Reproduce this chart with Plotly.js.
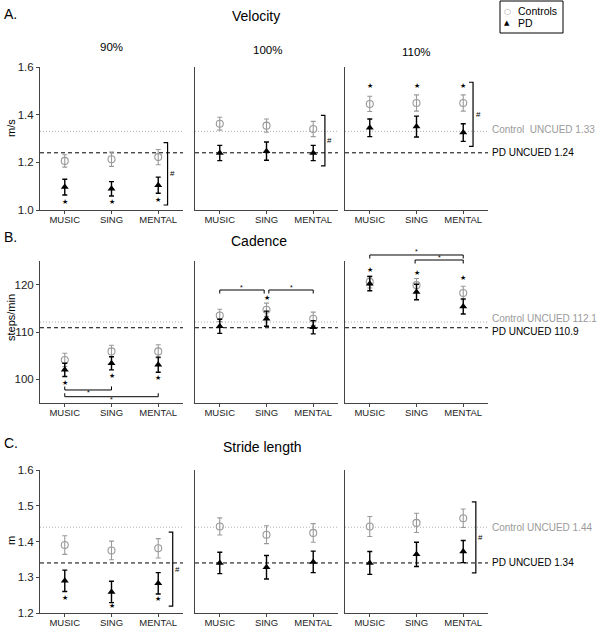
<!DOCTYPE html>
<html><head><meta charset="utf-8">
<script src="https://cdn.plot.ly/plotly-3.0.1.min.js"></script>
<style>html,body{margin:0;padding:0;background:#fff}#chart{width:600px;height:627px}</style>
</head><body><div id="chart"></div>
<script>
// ---------------- data ----------------
const conditions = ['MUSIC', 'SING', 'MENTAL'];
const cueRates = ['90%', '100%', '110%'];
const rowTitles = ['Velocity', 'Cadence', 'Stride length'];
const rowLetters = ['A.', 'B.', 'C.'];
const yTitles = ['m/s', 'steps/min', 'm'];
const yRanges = [[1.0, 1.6], [95, 125], [1.2, 1.6]];
const yTicks = [[1.0, 1.2, 1.4, 1.6], [100, 110, 120], [1.2, 1.3, 1.4, 1.5, 1.6]];
const yTickFormat = ['.1f', 'd', '.1f'];

// Velocity (m/s)
const velCtrl90 = [1.206, 1.213, 1.222],  velCtrlErr90 = [0.026, 0.030, 0.032];
const velPD90 = [1.096, 1.089, 1.104],    velPDErr90 = [0.033, 0.030, 0.034];
const velCtrl100 = [1.362, 1.354, 1.340], velCtrlErr100 = [0.027, 0.028, 0.032];
const velPD100 = [1.239, 1.247, 1.239],   velPDErr100 = [0.032, 0.038, 0.032];
const velCtrl110 = [1.445, 1.449, 1.449], velCtrlErr110 = [0.032, 0.034, 0.034];
const velPD110 = [1.345, 1.350, 1.325],   velPDErr110 = [0.037, 0.044, 0.037];

// Cadence (steps/min)
const cadCtrl90 = [104.1, 105.9, 105.9],  cadCtrlErr90 = [1.4, 1.3, 1.4];
const cadPD90 = [102.0, 103.4, 103.1],    cadPDErr90 = [1.4, 1.4, 1.6];
const cadCtrl100 = [113.5, 114.7, 112.8], cadCtrlErr100 = [1.3, 1.4, 1.4];
const cadPD100 = [111.2, 112.8, 111.0],   cadPDErr100 = [1.5, 1.6, 1.4];
const cadCtrl110 = [120.6, 119.9, 118.25], cadCtrlErr110 = [1.3, 1.4, 1.4];
const cadPD110 = [120.2, 118.45, 115.4],  cadPDErr110 = [1.5, 1.65, 1.6];

// Stride length (m)
const strCtrl90 = [1.390, 1.375, 1.381],  strCtrlErr90 = [0.026, 0.026, 0.027];
const strPD90 = [1.290, 1.259, 1.283],    strPDErr90 = [0.030, 0.030, 0.030];
const strCtrl100 = [1.442, 1.419, 1.424], strCtrlErr100 = [0.024, 0.025, 0.026];
const strPD100 = [1.340, 1.328, 1.343],   strPDErr100 = [0.030, 0.033, 0.030];
const strCtrl110 = [1.442, 1.452, 1.465], strCtrlErr110 = [0.028, 0.027, 0.026];
const strPD110 = [1.340, 1.364, 1.372],   strPDErr110 = [0.032, 0.034, 0.031];

// Uncued reference values
const ctrlUncued = [1.33, 112.1, 1.44];
const pdUncued = [1.24, 110.9, 1.34];
const ctrlUncuedLabel = ['Control&nbsp; UNCUED ', 'Control UNCUED ', 'Control UNCUED '];

// Significance stars (row, col, condition index, y)
const starRow = [0, 0, 0, 0, 0, 0, 1, 1, 1, 1, 1, 1, 1, 2, 2, 2];
const starCol = [0, 0, 0, 2, 2, 2, 0, 0, 0, 1, 2, 2, 2, 0, 0, 0];
const starCond = [0, 1, 2, 0, 1, 2, 0, 1, 2, 1, 0, 1, 2, 0, 1, 2];
const starY = [1.035, 1.032, 1.042, 1.522, 1.522, 1.522, 99.16, 100.77, 100.35, 117.25, 123.1, 122.5, 121.35, 1.241, 1.219, 1.239];

// Group-difference "#" brackets
const hashRow = [0, 0, 0, 2, 2];
const hashCol = [0, 1, 2, 0, 2];
const hashX = [2.20, 2.25, 2.21, 2.31, 2.27];
const hashY0 = [1.021, 1.185, 1.267, 1.219, 1.312];
const hashY1 = [1.283, 1.397, 1.536, 1.426, 1.511];

// Pairwise condition brackets (cadence)
const pairRow = [1, 1, 1, 1, 1, 1];
const pairCol = [0, 0, 1, 1, 2, 2];
const pairX0 = [0, 0, 0, 1.05, 0, 0.97];
const pairX1 = [1, 2, 0.95, 2, 2, 2];
const pairY = [97.75, 96.33, 118.87, 118.87, 126.27, 125.21];
const pairDir = [1, 1, -1, -1, -1, -1];

// ---------------- assembly ----------------
const ctrlMean = [[velCtrl90, velCtrl100, velCtrl110], [cadCtrl90, cadCtrl100, cadCtrl110], [strCtrl90, strCtrl100, strCtrl110]];
const ctrlErr = [[velCtrlErr90, velCtrlErr100, velCtrlErr110], [cadCtrlErr90, cadCtrlErr100, cadCtrlErr110], [strCtrlErr90, strCtrlErr100, strCtrlErr110]];
const pdMean = [[velPD90, velPD100, velPD110], [cadPD90, cadPD100, cadPD110], [strPD90, strPD100, strPD110]];
const pdErr = [[velPDErr90, velPDErr100, velPDErr110], [cadPDErr90, cadPDErr100, cadPDErr110], [strPDErr90, strPDErr100, strPDErr110]];

const W = 600, H = 627;
const colPx = [[40, 183], [195, 338], [345, 488]];
const rowPx = [[67, 210], [261, 403], [470, 613]];
const xRange = [-0.53, 2.53];
const FONT = 'Liberation Sans, Arial, sans-serif';
const CTRL = '#9a9a9a';
const AXC = '#444';

const PX = x => x / W;
const PY = y => 1 - y / H;
function toPx(r, c, xd, yd) {
  const xa = colPx[c], ya = rowPx[r], yr = yRanges[r];
  const px = xa[0] + (xd - xRange[0]) / (xRange[1] - xRange[0]) * (xa[1] - xa[0]);
  const py = ya[1] - (yd - yr[0]) / (yr[1] - yr[0]) * (ya[1] - ya[0]);
  return [px, py];
}

const xIdx = conditions.map((_, i) => i);
const traces = [];
const layout = {
  width: W, height: H,
  margin: {l: 0, r: 0, t: 0, b: 0},
  paper_bgcolor: '#fff', plot_bgcolor: '#fff',
  showlegend: false,
  font: {family: FONT, color: '#000'},
  shapes: [], annotations: []
};

for (let r = 0; r < 3; r++) {
  for (let c = 0; c < 3; c++) {
    const idx = r * 3 + c + 1;
    const xa = idx === 1 ? 'x' : 'x' + idx;
    const ya = idx === 1 ? 'y' : 'y' + idx;
    traces.push({
      type: 'scatter', mode: 'markers', xaxis: xa, yaxis: ya,
      x: xIdx, y: ctrlMean[r][c],
      error_y: {type: 'data', array: ctrlErr[r][c], visible: true, color: CTRL, thickness: 1.1, width: 2.5},
      marker: {symbol: 'circle-open', size: 7, color: CTRL, line: {width: 1.1, color: CTRL}},
      hoverinfo: 'skip'
    });
    traces.push({
      type: 'scatter', mode: 'markers', xaxis: xa, yaxis: ya,
      x: xIdx, y: pdMean[r][c],
      error_y: {type: 'data', array: pdErr[r][c], visible: true, color: '#000', thickness: 1.4, width: 2.5},
      marker: {symbol: 'triangle-up', size: 7, color: '#000'},
      hoverinfo: 'skip'
    });
    const xkey = idx === 1 ? 'xaxis' : 'xaxis' + idx;
    const ykey = idx === 1 ? 'yaxis' : 'yaxis' + idx;
    layout[xkey] = {
      domain: [PX(colPx[c][0]), PX(colPx[c][1])],
      anchor: ya, range: xRange,
      tickmode: 'array', tickvals: xIdx, ticktext: conditions,
      showline: true, linecolor: AXC, linewidth: 1,
      ticks: 'outside', ticklen: 2.5, tickcolor: AXC,
      ticklabelstandoff: -2,
      tickfont: {size: 9.5, family: FONT, color: '#222'},
      showgrid: false, zeroline: false, fixedrange: true
    };
    layout[ykey] = {
      domain: [PY(rowPx[r][1]), PY(rowPx[r][0])],
      anchor: xa, range: yRanges[r],
      tickmode: 'array', tickvals: yTicks[r], tickformat: yTickFormat[r],
      showticklabels: c === 0, ticks: c === 0 ? 'outside' : '',
      ticklen: 3, tickcolor: AXC,
      showline: true, linecolor: AXC, linewidth: 1,
      tickfont: {size: 11.5, family: FONT, color: '#222'},
      showgrid: false, zeroline: false, fixedrange: true
    };
    // uncued reference lines
    layout.shapes.push({type: 'line', layer: 'below', xref: xa + ' domain', x0: 0, x1: 1, yref: ya,
      y0: ctrlUncued[r], y1: ctrlUncued[r], line: {color: '#b0b0b0', width: 1, dash: '1px,2px'}});
    layout.shapes.push({type: 'line', layer: 'below', xref: xa + ' domain', x0: 0, x1: 1, yref: ya,
      y0: pdUncued[r], y1: pdUncued[r], line: {color: '#000', width: 1, dash: '4px,3px'}});
  }
  // reference line labels
  const cy = toPx(r, 2, 0, ctrlUncued[r])[1];
  const py = toPx(r, 2, 0, pdUncued[r])[1];
  const sep = Math.abs(py - cy) < 12 ? 4 : 0;
  layout.annotations.push({xref: 'paper', yref: 'paper', x: PX(490), y: PY(cy - sep - (r === 0 ? 2 : 0)), xanchor: 'left', yanchor: 'middle',
    text: ctrlUncuedLabel[r] + ctrlUncued[r], showarrow: false, font: {size: 10, color: CTRL, family: FONT}});
  layout.annotations.push({xref: 'paper', yref: 'paper', x: PX(490), y: PY(py + sep), xanchor: 'left', yanchor: 'middle',
    text: 'PD UNCUED ' + pdUncued[r], showarrow: false, font: {size: 10, color: '#000', family: FONT}});
}

// Titles, letters, axis titles
const letterY = [14, 237, 443];
const rowTitleY = [16, 241, 447];
const rowTitleX = [256, 259, 262];
const yTitleY = [128, 318, 541];
for (let r = 0; r < 3; r++) {
  layout.annotations.push({xref: 'paper', yref: 'paper', x: PX(2), y: PY(letterY[r]), xanchor: 'left', yanchor: 'middle',
    text: rowLetters[r], showarrow: false, font: {size: 14, family: FONT}});
  layout.annotations.push({xref: 'paper', yref: 'paper', x: PX(rowTitleX[r]), y: PY(rowTitleY[r]), xanchor: 'center', yanchor: 'middle',
    text: rowTitles[r], showarrow: false, font: {size: 14, family: FONT}});
  layout.annotations.push({xref: 'paper', yref: 'paper', x: PX(11), y: PY(yTitleY[r]), xanchor: 'center', yanchor: 'middle',
    text: yTitles[r], textangle: -90, showarrow: false, font: {size: 11, family: FONT}});
}
const pctY = [47, 50, 52];
const pctX = [111, 267, 417];
for (let c = 0; c < 3; c++) {
  layout.annotations.push({xref: 'paper', yref: 'paper', x: PX(pctX[c]), y: PY(pctY[c]), xanchor: 'center', yanchor: 'middle',
    text: cueRates[c], showarrow: false, font: {size: 11.5, family: FONT}});
}

// Stars
for (let i = 0; i < starY.length; i++) {
  const p = toPx(starRow[i], starCol[i], starCond[i], starY[i]);
  layout.annotations.push({xref: 'paper', yref: 'paper', x: PX(p[0]), y: PY(p[1]), xanchor: 'center', yanchor: 'middle',
    text: '★', showarrow: false, font: {size: 7, family: 'DejaVu Sans', color: '#000'}});
}

// Hash brackets
for (let i = 0; i < hashX.length; i++) {
  const a = toPx(hashRow[i], hashCol[i], hashX[i], hashY1[i]);
  const b = toPx(hashRow[i], hashCol[i], hashX[i], hashY0[i]);
  const xl = a[0] - 4;
  layout.shapes.push({type: 'path', xref: 'paper', yref: 'paper',
    path: `M${PX(xl)},${PY(a[1])} L${PX(a[0])},${PY(a[1])} L${PX(b[0])},${PY(b[1])} L${PX(xl)},${PY(b[1])}`,
    line: {color: '#000', width: 1.2}});
  layout.annotations.push({xref: 'paper', yref: 'paper', x: PX(a[0] + 5), y: PY((a[1] + b[1]) / 2), xanchor: 'center', yanchor: 'middle',
    text: '#', showarrow: false, font: {size: 8, family: FONT}});
}

// Pair brackets
for (let i = 0; i < pairX0.length; i++) {
  const a = toPx(pairRow[i], pairCol[i], pairX0[i], pairY[i]);
  const b = toPx(pairRow[i], pairCol[i], pairX1[i], pairY[i]);
  const yt = a[1] - pairDir[i] * 3.5;
  layout.shapes.push({type: 'path', xref: 'paper', yref: 'paper',
    path: `M${PX(a[0])},${PY(yt)} L${PX(a[0])},${PY(a[1])} L${PX(b[0])},${PY(b[1])} L${PX(b[0])},${PY(yt)}`,
    line: {color: '#000', width: 1}});
  layout.annotations.push({xref: 'paper', yref: 'paper', x: PX((a[0] + b[0]) / 2), y: PY(a[1] + pairDir[i] * 3), xanchor: 'center', yanchor: 'middle',
    text: '*', showarrow: false, font: {size: 7, family: FONT, color: '#000'}});
}

// Legend (drawn manually)
layout.shapes.push({type: 'rect', xref: 'paper', yref: 'paper', x0: PX(500), x1: PX(563), y0: PY(33), y1: PY(1),
  line: {color: '#000', width: 1}, fillcolor: '#fff'});
const legendNames = ['Controls', 'PD'];
const legendSym = ['○', '▲'];
const legendCol = [CTRL, '#000'];
const legendY = [11.5, 23];
for (let i = 0; i < 2; i++) {
  layout.annotations.push({xref: 'paper', yref: 'paper', x: PX(507), y: PY(legendY[i]), xanchor: 'center', yanchor: 'middle',
    text: legendSym[i], showarrow: false, font: {size: i === 0 ? 8 : 7, family: 'DejaVu Sans', color: legendCol[i]}});
  layout.annotations.push({xref: 'paper', yref: 'paper', x: PX(516), y: PY(legendY[i]), xanchor: 'left', yanchor: 'middle',
    text: legendNames[i], showarrow: false, font: {size: 10.5, family: FONT, color: '#000'}});
}

Plotly.newPlot('chart', traces, layout, {staticPlot: true, displayModeBar: false});
</script>
</body></html>
